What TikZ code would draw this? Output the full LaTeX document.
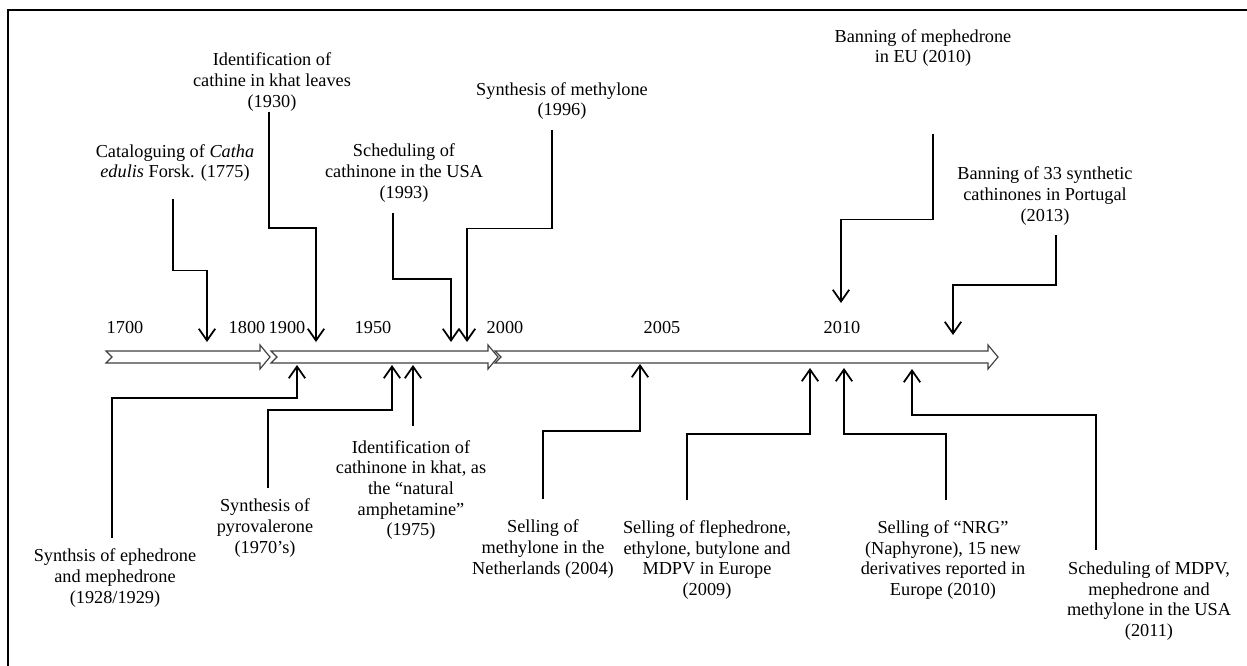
\documentclass[tikz,border=0pt]{standalone}
\usepackage{fontspec}
\setmainfont{Liberation Serif}
\usetikzlibrary{arrows.meta}
\begin{document}
\begin{tikzpicture}[x=0.03cm,y=-0.03cm,line width=1.5pt,
    event/.style={-{Straight Barb[length=10pt,width=14pt]}},
    band/.style={draw=black!75,fill=white,line width=1pt}]
  \tikzstyle{every node}=[align=center,inner sep=0pt,font=\fontsize{15.6}{17.6}\selectfont];
  \useasboundingbox (0,0) rectangle (1247,666);
  \draw (8,666) -- (8,10) -- (1247,10);
  % timeline
  \foreach \s/\e in {106/270,271/498,495/998}
    \draw[band] (\s,351) -- ({\e-10},351) -- ({\e-10},345) -- (\e,357)
      -- ({\e-10},369) -- ({\e-10},363) -- (\s,363) -- ({\s+6},357) -- cycle;
  \foreach \yr/\x in {1700/125,1800/247,1900/287,1950/373,2000/505,2005/662,2010/842}
    \node (y\yr) at (\x,328) {\yr};
  % points on the timeline
  \coordinate (t1775) at (207,342);
  \coordinate (t1930) at (316,342);
  \coordinate (t1993) at (451,342);
  \coordinate (t1996) at (467,342);
  \coordinate (t2010a) at (841,303);
  \coordinate (t2013) at (953,335);
  \coordinate (t1928) at (297,365);
  \coordinate (t1970) at (392,365);
  \coordinate (t1975) at (413,365);
  \coordinate (t2004) at (640,364);
  \coordinate (t2009) at (810,368);
  \coordinate (t2010b) at (844,368);
  \coordinate (t2011) at (912,369);
  % events above
  \node (catha) at (175,163) {Cataloguing of \textit{Catha}\\\textit{edulis} Forsk. (1775)};
  \node (cathine) at (272,82) {Identification of\\cathine in khat leaves\\(1930)};
  \node (sched93) at (404,173) {Scheduling of\\cathinone in the USA\\(1993)};
  \node (methylone96) at (562,101) {Synthesis of methylone\\(1996)};
  \node (mephEU) at (923,48) {Banning of mephedrone\\in EU (2010)};
  \node (portugal) at (1045,196) {Banning of 33 synthetic\\cathinones in Portugal\\(2013)};
  % events below
  \node (ephedrone) at (115,578) {Synthsis of ephedrone\\and mephedrone\\(1928/1929)};
  \node (pyro) at (265,528) {Synthesis of\\pyrovalerone\\(1970's)};
  \node (cathinone75) at (411,490) {Identification of\\cathinone in khat, as\\the ``natural\\amphetamine''\\(1975)};
  \node (nether) at (543,549) {Selling of\\methylone in the\\Netherlands (2004)};
  \node (fleph) at (707,560) {Selling of flephedrone,\\ethylone, butylone and\\MDPV in Europe\\(2009)};
  \node (nrg) at (943,560) {Selling of ``NRG''\\(Naphyrone), 15 new\\derivatives reported in\\Europe (2010)};
  \node (mdpv) at (1149,601) {Scheduling of MDPV,\\mephedrone and\\methylone in the USA\\(2011)};
  % connectors
  \draw[event] ([shift={(-2,16)}]catha.south) -- ++(0,72) -| (t1775);
  \draw[event] ([shift={(-3,0)}]cathine.south) -- ++(0,116) -| (t1930);
  \draw[event] ([shift={(-11,10)}]sched93.south) -- ++(0,66) -| (t1993);
  \draw[event] ([shift={(-10,9)}]methylone96.south) -- ++(0,99) -| (t1996);
  \draw[event] ([shift={(10,66)}]mephEU.south) -- ++(0,86) -| (t2010a);
  \draw[event] ([shift={(11,9)}]portugal.south) -- ++(0,50) -| (t2013);
  \draw[event] ([shift={(-3,-10)}]ephedrone.north) -- ++(0,-140) -| (t1928);
  \draw[event] ([shift={(3,-10)}]pyro.north) -- ++(0,-78) -| (t1970);
  \draw[event] ([shift={(2,-14)}]cathinone75.north) -- (t1975);
  \draw[event] ([shift={(0,-20)}]nether.north) -- ++(0,-68) -| (t2004);
  \draw[event] ([shift={(-20,-20)}]fleph.north) -- ++(0,-66) -| (t2009);
  \draw[event] ([shift={(3,-20)}]nrg.north) -- ++(0,-66) -| (t2010b);
  \draw[event] ([shift={(-53,-11)}]mdpv.north) -- ++(0,-135) -| (t2011);
\end{tikzpicture}
\end{document}
